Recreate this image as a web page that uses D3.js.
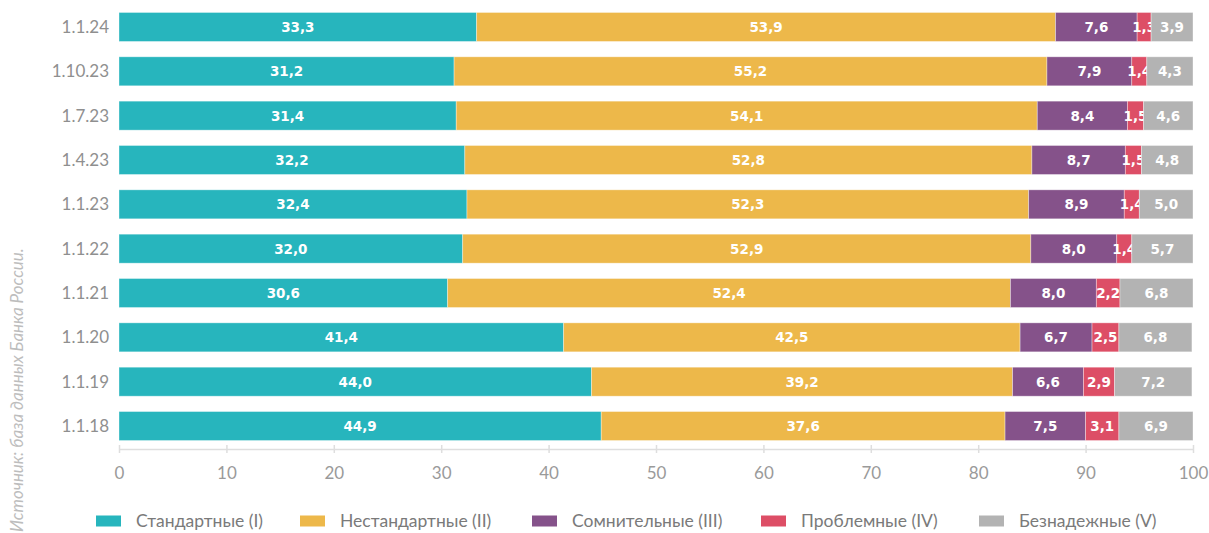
<!DOCTYPE html>
<html>
<head>
<meta charset="utf-8">
<script src="https://cdn.jsdelivr.net/npm/d3@7"></script>
<style>
  body { margin: 0; background: #fff; }
  svg { font-family: Lato, "Open Sans", sans-serif; }
</style>
</head>
<body>
<div id="chart"></div>
<script>
// data, top row first
const dates = ['1.1.24', '1.10.23', '1.7.23', '1.4.23', '1.1.23', '1.1.22', '1.1.21', '1.1.20', '1.1.19', '1.1.18'];
const standard    = [33.3, 31.2, 31.4, 32.2, 32.4, 32.0, 30.6, 41.4, 44.0, 44.9];
const nonstandard = [53.9, 55.2, 54.1, 52.8, 52.3, 52.9, 52.4, 42.5, 39.2, 37.6];
const doubtful    = [7.6, 7.9, 8.4, 8.7, 8.9, 8.0, 8.0, 6.7, 6.6, 7.5];
const problem     = [1.3, 1.4, 1.5, 1.5, 1.4, 1.4, 2.2, 2.5, 2.9, 3.1];
const hopeless    = [3.9, 4.3, 4.6, 4.8, 5.0, 5.7, 6.8, 6.8, 7.2, 6.9];
const seriesNames = ['Стандартные (I)', 'Нестандартные (II)', 'Сомнительные (III)', 'Проблемные (IV)', 'Безнадежные (V)'];
const xTicks = [0, 10, 20, 30, 40, 50, 60, 70, 80, 90, 100];

const colors = ['#27b5bd', '#edb84a', '#85528a', '#dd4e66', '#b3b3b3'];
const allSeries = [standard, nonstandard, doubtful, problem, hopeless];

const svgwidth = 1209, svgheight = 533;
const svg = d3.select('#chart').append('svg')
    .attr('width', svgwidth).attr('height', svgheight);

const x = d3.scaleLinear().domain([0, 100]).range([119, 1193]);
const y = d3.scaleBand().domain(dates).range([4.8, 448.2])
    .paddingInner(0.346).paddingOuter(0.173);

// build stacked table
const table = dates.map((d, i) => {
  const row = { date: d };
  allSeries.forEach((s, k) => row['s' + k] = s[i]);
  return row;
});
const stack = d3.stack().keys(allSeries.map((s, k) => 's' + k))(table);

const layers = svg.append('g').selectAll('g')
  .data(stack).enter().append('g')
  .attr('fill', (d, k) => colors[k]);

layers.selectAll('rect')
  .data(d => d).enter().append('rect')
  .attr('x', d => x(d[0]))
  .attr('y', d => y(d.data.date))
  .attr('width', d => x(d[1]) - x(d[0]))
  .attr('height', y.bandwidth())
  .attr('stroke', 'rgba(255,255,255,0.45)')
  .attr('stroke-width', 0.8);

// value labels
layers.selectAll('text')
  .data(d => d).enter().append('text')
  .attr('x', d => (x(d[0]) + x(d[1])) / 2)
  .attr('y', d => y(d.data.date) + y.bandwidth() / 2)
  .attr('dy', '0.36em')
  .attr('text-anchor', 'middle')
  .attr('fill', '#fff')
  .attr('font-family', '"DejaVu Sans", sans-serif')
  .attr('font-size', 13.5)
  .attr('font-weight', 'bold')
  .text(d => (d[1] - d[0]).toFixed(1).replace('.', ','));

// category labels
svg.append('g').selectAll('text')
  .data(dates).enter().append('text')
  .attr('x', 109)
  .attr('y', d => y(d) + y.bandwidth() / 2)
  .attr('dy', '0.36em')
  .attr('text-anchor', 'end')
  .attr('fill', '#8f8f8f')
  .attr('font-size', 17)
  .text(d => d);

// x axis
const axisY = 449;
const xAxis = d3.axisBottom(x).tickValues(xTicks).tickSize(0).tickPadding(0);
const ax = svg.append('g').attr('transform', `translate(0,${axisY})`).call(xAxis);
ax.select('.domain').attr('stroke', '#dedede').attr('stroke-width', 1.5);
ax.selectAll('.tick line').attr('y1', -4).attr('y2', 4).attr('stroke', '#dedede').attr('stroke-width', 1.5);
ax.selectAll('.tick text')
  .attr('y', 24).attr('dy', '0.36em')
  .attr('fill', '#9a9a9a')
  .attr('font-size', 17)
  .attr('font-family', 'Lato, sans-serif');

// legend
const legendX = [96, 300, 532, 761, 979];
const legend = svg.append('g').selectAll('g')
  .data(seriesNames).enter().append('g')
  .attr('transform', (d, i) => `translate(${legendX[i]},521)`);
legend.append('rect')
  .attr('x', 0).attr('y', -5.5)
  .attr('width', 25).attr('height', 11)
  .attr('fill', (d, i) => colors[i]);
legend.append('text')
  .attr('x', 40).attr('dy', '0.36em')
  .attr('fill', '#7a7a7a')
  .attr('font-size', 17.5)
  .text(d => d);

// source note
svg.append('text')
  .attr('transform', 'translate(23,532) rotate(-90)')
  .attr('fill', '#bdbdbd')
  .attr('font-size', 17)
  .attr('font-style', 'italic')
  .text('Источник: база данных Банка России.');
</script>
</body>
</html>
